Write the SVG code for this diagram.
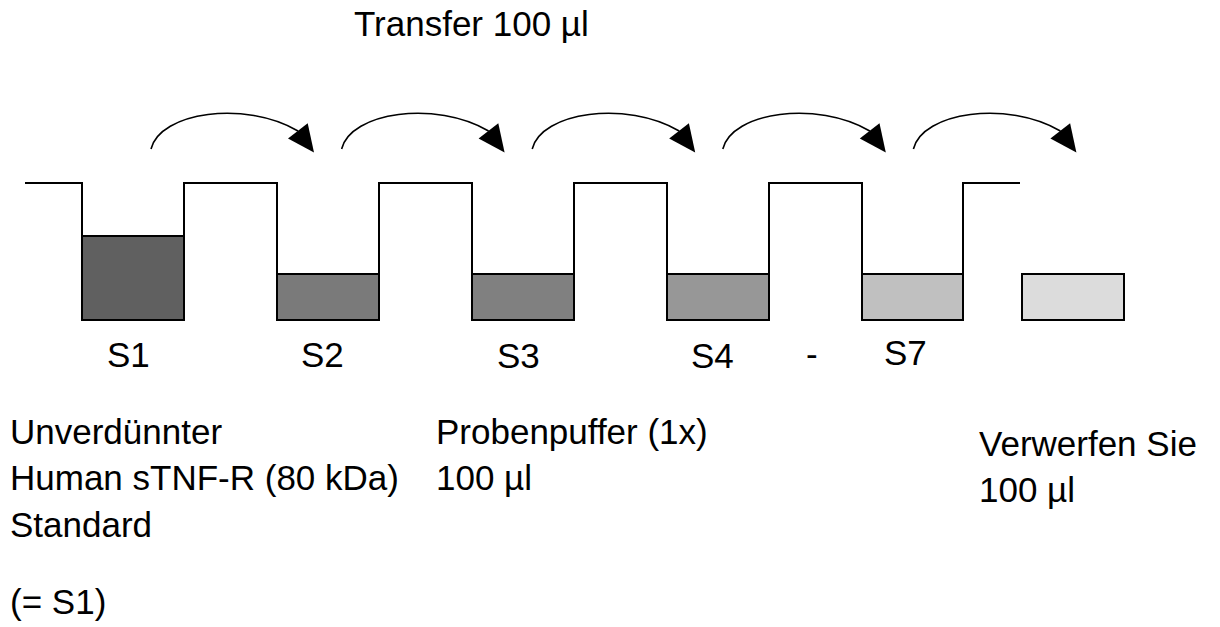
<svg xmlns="http://www.w3.org/2000/svg" width="1220" height="627" viewBox="0 0 1220 627">
<style>
text{font-family:"Liberation Sans",Arial,sans-serif;font-size:35px;fill:#000}
.ln{fill:none;stroke:#000;stroke-width:2}
.liq{stroke:#000;stroke-width:2}
.arc{fill:none;stroke:#000;stroke-width:1.6}
</style>
<defs>
<g id="arrow">
<path class="arc" d="M151,149 C160,112 245,100 298,131"/>
<polygon points="314,152.5 288,138.5 307.7,123.3" fill="#000"/>
</g>
</defs>
<rect width="1220" height="627" fill="#fff"/>
<g id="plate">
<path class="ln" d="M25,183 H82 V320 H184 V183 H277 V320 H379 V183 H472 V320 H574 V183 H667 V320 H769 V183 H862 V320 H963 V183 H1020"/>
</g>
<g id="S1"><rect class="liq" x="82" y="236" width="102" height="84" fill="#606060"/><text x="107" y="367">S1</text></g>
<g id="S2"><rect class="liq" x="277" y="274" width="102" height="46" fill="#7a7a7a"/><text x="301" y="367">S2</text></g>
<g id="S3"><rect class="liq" x="472" y="274" width="102" height="46" fill="#808080"/><text x="497" y="368">S3</text></g>
<g id="S4"><rect class="liq" x="667" y="274" width="102" height="46" fill="#979797"/><text x="691" y="368">S4</text></g>
<g id="dash"><text x="806" y="366">-</text></g>
<g id="S7"><rect class="liq" x="862" y="274" width="101" height="46" fill="#c0c0c0"/><text x="884" y="365">S7</text></g>
<g id="discard"><rect class="liq" x="1022" y="274" width="102" height="46" fill="#dcdcdc"/></g>
<g id="connectors">
<use href="#arrow"/>
<use href="#arrow" transform="translate(190.6,0)"/>
<use href="#arrow" transform="translate(381.2,0)"/>
<use href="#arrow" transform="translate(571.8,0)"/>
<use href="#arrow" transform="translate(762.4,0)"/>
</g>
<g id="labels">
<text x="354" y="36">Transfer 100 µl</text>
<text x="10" y="444">Unverdünnter</text>
<text x="10" y="490">Human sTNF-R (80 kDa)</text>
<text x="10" y="537">Standard</text>
<text x="10" y="614">(= S1)</text>
<text x="436" y="444">Probenpuffer (1x)</text>
<text x="436" y="490">100 µl</text>
<text x="979" y="456">Verwerfen Sie</text>
<text x="979" y="502">100 µl</text>
</g>
</svg>
